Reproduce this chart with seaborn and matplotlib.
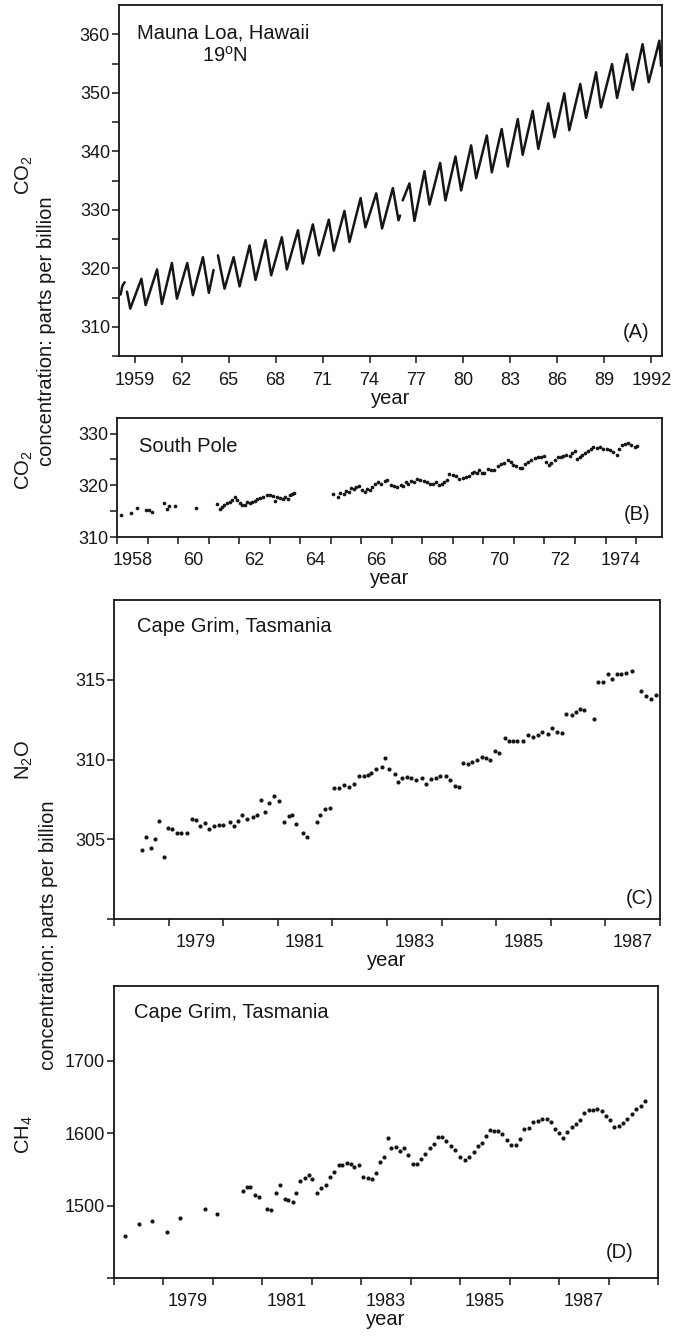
import matplotlib
matplotlib.use("Agg")
import numpy as np
import pandas as pd
import seaborn as sns
import matplotlib.pyplot as plt
from matplotlib.ticker import FixedLocator, FixedFormatter, NullFormatter

# ---------------- data ----------------
# (A) Mauna Loa CO2: turning points of the seasonal cycle, by record segment
a_year = [1958.10, 1958.22, 1958.36,
          1958.51, 1958.72, 1959.43, 1959.70, 1960.43, 1960.74, 1961.38, 1961.70,
          1962.36, 1962.72, 1963.36, 1963.74, 1964.04,
          1964.32, 1964.74, 1965.32, 1965.70, 1966.34, 1966.72, 1967.36, 1967.72,
          1968.40, 1968.72, 1969.43, 1969.74, 1970.38, 1970.77, 1971.40, 1971.72,
          1972.40, 1972.72, 1973.43, 1973.74, 1974.43, 1974.80, 1975.49, 1975.85, 1975.95,
          1976.12, 1976.55, 1976.87, 1977.51, 1977.83, 1978.51, 1978.85, 1979.49, 1979.85,
          1980.49, 1980.81, 1981.49, 1981.81, 1982.44, 1982.83, 1983.47, 1983.78,
          1984.42, 1984.78, 1985.42, 1985.81, 1986.44, 1986.76, 1987.46, 1987.83,
          1988.47, 1988.78, 1989.49, 1989.81, 1990.44, 1990.81, 1991.44, 1991.83,
          1992.51, 1992.62]
a_co2 = [315.5, 317.0, 317.6,
         316.0, 313.1, 318.2, 313.7, 319.8, 313.9, 320.9, 314.8,
         320.9, 315.4, 321.9, 315.8, 319.7,
         322.2, 316.5, 321.9, 316.9, 323.9, 318.0, 324.8, 318.8,
         325.3, 319.8, 326.5, 320.8, 327.5, 322.2, 328.3, 323.0,
         329.8, 324.5, 332.0, 327.0, 332.8, 326.8, 333.7, 328.2, 329.0,
         331.6, 334.5, 328.1, 336.6, 330.9, 338.0, 331.6, 339.1, 333.3,
         341.0, 335.4, 342.7, 336.4, 343.8, 337.4, 345.5, 339.4,
         346.9, 340.4, 348.2, 342.4, 349.9, 343.6, 351.5, 345.7,
         353.5, 347.5, 354.9, 349.1, 356.6, 350.5, 358.3, 351.8,
         358.9, 354.6]
a_seg = [0] * 3 + [1] * 13 + [2] * 25 + [3] * 35

# (B) South Pole CO2
b_year = [1958.14, 1958.45, 1958.65, 1958.95, 1959.05, 1959.16, 1959.55, 1959.64, 1959.71, 1959.90,
          1960.60, 1961.28, 1961.36, 1961.44, 1961.52, 1961.61, 1961.69, 1961.77, 1961.85, 1961.94,
          1962.02, 1962.10, 1962.18, 1962.27, 1962.35, 1962.42, 1962.51, 1962.60, 1962.68, 1962.79,
          1962.90, 1963.01, 1963.12, 1963.17, 1963.23, 1963.34, 1963.45, 1963.50, 1963.59, 1963.67,
          1963.72, 1963.81,
          1965.09, 1965.23, 1965.31, 1965.42, 1965.50, 1965.59, 1965.67, 1965.75, 1965.83, 1965.92,
          1966.03, 1966.11, 1966.19, 1966.27, 1966.35, 1966.44, 1966.55, 1966.66, 1966.77, 1966.85,
          1966.96, 1967.07, 1967.18, 1967.29, 1967.38, 1967.45, 1967.53, 1967.62, 1967.73, 1967.84,
          1967.93, 1968.04, 1968.15, 1968.25, 1968.36, 1968.44, 1968.55, 1968.63, 1968.72, 1968.80,
          1968.88, 1968.99, 1969.10, 1969.21, 1969.32, 1969.43, 1969.54, 1969.62, 1969.70, 1969.79,
          1969.87, 1969.95, 1970.03, 1970.14, 1970.25, 1970.36, 1970.47, 1970.58, 1970.69, 1970.80,
          1970.89, 1970.97, 1971.08, 1971.19, 1971.26, 1971.35, 1971.46, 1971.57, 1971.68, 1971.79,
          1971.90, 1971.99, 1972.06, 1972.14, 1972.23, 1972.34, 1972.43, 1972.54, 1972.61, 1972.72,
          1972.83, 1972.91, 1973.00, 1973.08, 1973.16, 1973.24, 1973.33, 1973.44, 1973.52, 1973.60,
          1973.71, 1973.82, 1973.93, 1974.04, 1974.15, 1974.26, 1974.37, 1974.45, 1974.53, 1974.64,
          1974.73, 1974.84, 1974.95, 1975.03]
b_co2 = [314.3, 314.7, 315.6, 315.2, 315.2, 314.9, 316.5, 315.4, 315.9, 315.9,
         315.7, 316.3, 315.4, 315.8, 316.1, 316.5, 316.7, 317.1, 317.8, 317.1,
         316.6, 316.2, 316.1, 316.7, 316.5, 316.7, 316.9, 317.3, 317.5, 317.8,
         318.1, 318.1, 317.9, 316.9, 317.8, 317.5, 317.3, 317.8, 317.3, 318.1,
         318.4, 318.5,
         318.4, 317.8, 318.5, 318.3, 318.9, 318.7, 319.5, 319.3, 319.7, 319.9,
         319.1, 318.7, 319.3, 319.0, 319.7, 320.2, 320.6, 320.2, 320.9, 321.0,
         320.1, 319.9, 319.7, 320.1, 319.9, 320.6, 320.2, 320.9, 320.6, 321.2,
         321.0, 320.9, 320.6, 320.3, 320.3, 320.6, 320.1, 320.2, 320.6, 321.0,
         322.1, 321.9, 321.7, 321.2, 321.4, 321.6, 321.7, 322.4, 322.6, 322.4,
         323.0, 322.4, 322.3, 323.1, 323.0, 323.0, 323.8, 324.1, 324.3, 324.8,
         324.5, 324.0, 323.7, 323.4, 323.3, 324.2, 324.5, 324.8, 325.2, 325.4,
         325.4, 325.6, 324.5, 324.0, 324.3, 324.8, 325.4, 325.5, 325.7, 325.9,
         325.6, 326.3, 326.6, 325.0, 325.4, 325.9, 326.3, 326.6, 327.1, 327.4,
         327.2, 327.4, 327.1, 327.0, 326.8, 326.4, 325.9, 327.1, 327.8, 327.9,
         328.1, 327.8, 327.4, 327.6]

# (C) Cape Grim N2O
c_year = [1978.51, 1978.59, 1978.67, 1978.75, 1978.83, 1978.92, 1978.99, 1979.07, 1979.15, 1979.23,
          1979.33, 1979.42, 1979.50, 1979.58, 1979.66, 1979.74, 1979.84, 1979.92, 1980.00, 1980.12,
          1980.19, 1980.28, 1980.34, 1980.43, 1980.54, 1980.61, 1980.69, 1980.77, 1980.84, 1980.93,
          1981.03, 1981.12, 1981.21, 1981.26, 1981.34, 1981.46, 1981.54, 1981.72, 1981.78, 1981.87,
          1981.95, 1982.03, 1982.13, 1982.22, 1982.30, 1982.39, 1982.48, 1982.57, 1982.66, 1982.71,
          1982.79, 1982.90, 1982.96, 1983.04, 1983.15, 1983.21, 1983.28, 1983.36, 1983.44, 1983.53,
          1983.64, 1983.72, 1983.80, 1983.90, 1983.97, 1984.08, 1984.15, 1984.24, 1984.32, 1984.39,
          1984.48, 1984.56, 1984.64, 1984.74, 1984.81, 1984.89, 1984.97, 1985.06, 1985.17, 1985.23,
          1985.31, 1985.39, 1985.49, 1985.58, 1985.67, 1985.77, 1985.84, 1985.94, 1986.03, 1986.11,
          1986.20, 1986.28, 1986.38, 1986.46, 1986.53, 1986.61, 1986.80, 1986.87, 1986.95, 1987.05,
          1987.13, 1987.21, 1987.29, 1987.38, 1987.48, 1987.65, 1987.74, 1987.84, 1987.92]
c_n2o = [304.35, 305.13, 304.46, 305.01, 306.14, 303.88, 305.73, 305.65, 305.42, 305.38,
         305.38, 306.30, 306.20, 305.85, 306.04, 305.65, 305.85, 305.89, 305.89, 306.10,
         305.85, 306.16, 306.51, 306.30, 306.41, 306.55, 307.43, 306.71, 307.29, 307.70,
         307.39, 306.10, 306.47, 306.51, 305.93, 305.42, 305.17, 306.10, 306.51, 306.92,
         306.98, 308.19, 308.19, 308.42, 308.25, 308.46, 308.97, 308.97, 309.01, 309.18,
         309.43, 309.53, 310.08, 309.38, 309.08, 308.62, 308.87, 308.91, 308.87, 308.73,
         308.83, 308.46, 308.77, 308.87, 308.97, 308.97, 308.71, 308.32, 308.25, 309.79,
         309.69, 309.86, 310.00, 310.14, 310.10, 309.94, 310.55, 310.41, 311.33, 311.13,
         311.17, 311.13, 311.17, 311.54, 311.44, 311.54, 311.75, 311.58, 311.95, 311.70,
         311.64, 312.87, 312.77, 312.98, 313.18, 313.12, 312.51, 314.87, 314.83, 315.38,
         315.03, 315.34, 315.38, 315.44, 315.54, 314.31, 314.00, 313.80, 314.07]

# (D) Cape Grim CH4
d_year = [1978.22, 1978.50, 1978.76, 1979.07, 1979.34, 1979.83, 1980.09,
          1980.60, 1980.69, 1980.75, 1980.85, 1980.94, 1981.10, 1981.18, 1981.27, 1981.36, 1981.45,
          1981.52, 1981.62, 1981.69, 1981.77, 1981.87, 1981.95, 1982.01, 1982.10, 1982.19, 1982.28,
          1982.36, 1982.45, 1982.54, 1982.62, 1982.71, 1982.80, 1982.86, 1982.95, 1983.04, 1983.13,
          1983.22, 1983.30, 1983.37, 1983.45, 1983.54, 1983.61, 1983.70, 1983.79, 1983.86, 1983.94,
          1984.04, 1984.13, 1984.20, 1984.29, 1984.38, 1984.47, 1984.55, 1984.63, 1984.72, 1984.81,
          1984.89, 1984.99, 1985.09, 1985.18, 1985.27, 1985.36, 1985.44, 1985.53, 1985.61, 1985.69,
          1985.77, 1985.85, 1985.94, 1986.03, 1986.12, 1986.21, 1986.30, 1986.39, 1986.48, 1986.57,
          1986.66, 1986.75, 1986.83, 1986.92, 1987.00, 1987.08, 1987.17, 1987.26, 1987.35, 1987.42,
          1987.51, 1987.60, 1987.69, 1987.77, 1987.86, 1987.95, 1988.03, 1988.12, 1988.21, 1988.30,
          1988.38, 1988.47, 1988.56, 1988.65, 1988.73]
d_ch4 = [1457.5, 1474.5, 1479.1, 1463.9, 1482.3, 1495.2, 1488.3,
         1520.5, 1526.0, 1525.1, 1514.5, 1511.3, 1495.2, 1494.3, 1517.2, 1528.3, 1509.0,
         1507.6, 1504.4, 1517.2, 1533.3, 1537.5, 1542.1, 1536.6, 1517.2, 1523.7, 1528.7,
         1538.9, 1545.7, 1555.9, 1555.9, 1558.6, 1557.2, 1552.6, 1555.9, 1538.9, 1537.5,
         1536.6, 1544.4, 1559.5, 1567.4, 1593.1, 1579.3, 1581.1, 1575.6, 1578.9, 1570.1,
         1557.2, 1557.2, 1564.1, 1571.0, 1578.9, 1584.8, 1594.0, 1594.9, 1588.5, 1582.5,
         1576.6, 1566.4, 1563.2, 1566.4, 1573.3, 1582.5, 1585.7, 1596.3, 1604.6, 1603.2,
         1603.2, 1598.6, 1590.8, 1583.4, 1583.4, 1591.7, 1605.5, 1606.9, 1614.7, 1616.1,
         1619.3, 1619.3, 1615.6, 1605.5, 1600.0, 1592.6, 1600.9, 1608.7, 1612.4, 1617.9,
         1627.1, 1631.7, 1631.7, 1633.1, 1630.8, 1623.9, 1617.9, 1608.7, 1609.2, 1613.3,
         1619.3, 1626.2, 1633.1, 1637.7, 1643.7]

# tick labels
a_xticks = [1959, 1962, 1965, 1968, 1971, 1974, 1977, 1980, 1983, 1986, 1989, 1992]
a_xlabels = ["1959", "62", "65", "68", "71", "74", "77", "80", "83", "86", "89", "1992"]
b_xlabels = ["1958", "60", "62", "64", "66", "68", "70", "72", "1974"]
cd_xlabels = ["1979", "1981", "1983", "1985", "1987"]

# ---------------- style ----------------
sns.set_theme(style="ticks")
plt.rcParams['font.family'] = ['Liberation Sans', 'DejaVu Sans']
plt.rcParams['mathtext.fontset'] = 'custom'
plt.rcParams['mathtext.rm'] = 'Liberation Sans'
plt.rcParams['mathtext.it'] = 'Liberation Sans:italic'
plt.rcParams['mathtext.bf'] = 'Liberation Sans:bold'

INK = "#161616"
W, H = 674, 1340
fig = plt.figure(figsize=(W / 100, H / 100), dpi=100)
fig.patch.set_facecolor("white")


def add_ax(l, r, t, b):
    return fig.add_axes([l / W, 1 - b / H, (r - l) / W, (b - t) / H])


axA = add_ax(119, 662, 5, 356)
axB = add_ax(117, 662, 418, 537)
axC = add_ax(114, 660, 600, 919)
axD = add_ax(114, 658, 986, 1278)

TICK_FS = 13


def style(ax):
    for s in ax.spines.values():
        s.set_linewidth(1.3)
        s.set_color(INK)
        s.set_visible(True)
    ax.tick_params(which="both", direction="out", length=5, width=1.1, color=INK,
                   labelsize=TICK_FS, labelcolor=INK)
    ax.tick_params(axis="x", which="both", pad=6.5)
    ax.tick_params(axis="y", which="both", pad=1.5)
    ax.set_xlabel("year", fontsize=14.5, color=INK, labelpad=0)
    ax.set_ylabel("")
    ax.set_facecolor("white")


# ---- (A)
dfA = pd.DataFrame({"year": a_year, "co2": a_co2, "seg": a_seg})
sns.lineplot(data=dfA, x="year", y="co2", units="seg", estimator=None, sort=False,
             color=INK, linewidth=1.8, ax=axA)
axA.set_xlim(1958.0, 1992.68)
axA.set_ylim(305, 365)
axA.xaxis.set_major_locator(FixedLocator(a_xticks))
axA.xaxis.set_major_formatter(FixedFormatter(a_xlabels))
axA.yaxis.set_major_locator(FixedLocator([310, 320, 330, 340, 350, 360]))
axA.yaxis.set_minor_locator(FixedLocator([305, 315, 325, 335, 345, 355]))
style(axA)

# ---- (B)
sns.scatterplot(x=b_year, y=b_co2, ax=axB, s=7, color=INK, linewidth=0, legend=False)
axB.set_xlim(1958.0, 1975.85)
axB.set_ylim(310, 333)
axB.xaxis.set_major_locator(FixedLocator(list(range(1958, 1976))))
axB.xaxis.set_major_formatter(NullFormatter())
axB.xaxis.set_minor_locator(FixedLocator([y + 0.5 for y in range(1958, 1975, 2)]))
axB.xaxis.set_minor_formatter(FixedFormatter(b_xlabels))
axB.yaxis.set_major_locator(FixedLocator([310, 320, 330]))
axB.yaxis.set_minor_locator(FixedLocator([315, 325]))
style(axB)
axB.tick_params(axis="x", which="minor", length=0, pad=11)

# ---- (C)
sns.scatterplot(x=c_year, y=c_n2o, ax=axC, s=9, color=INK, linewidth=0, legend=False)
axC.set_xlim(1978.0, 1988.0)
axC.set_ylim(300, 320)
axC.xaxis.set_major_locator(FixedLocator(list(range(1978, 1989))))
axC.xaxis.set_major_formatter(NullFormatter())
axC.xaxis.set_minor_locator(FixedLocator([1979.5, 1981.5, 1983.5, 1985.5, 1987.5]))
axC.xaxis.set_minor_formatter(FixedFormatter(cd_xlabels))
axC.yaxis.set_major_locator(FixedLocator([305, 310, 315]))
axC.yaxis.set_minor_locator(FixedLocator([300]))
style(axC)
axC.tick_params(axis="x", which="minor", length=0, pad=11)

# ---- (D)
sns.scatterplot(x=d_year, y=d_ch4, ax=axD, s=9, color=INK, linewidth=0, legend=False)
axD.set_xlim(1978.0, 1989.0)
axD.set_ylim(1400, 1803)
axD.xaxis.set_major_locator(FixedLocator(list(range(1978, 1990))))
axD.xaxis.set_major_formatter(NullFormatter())
axD.xaxis.set_minor_locator(FixedLocator([1979.5, 1981.5, 1983.5, 1985.5, 1987.5]))
axD.xaxis.set_minor_formatter(FixedFormatter(cd_xlabels))
axD.yaxis.set_major_locator(FixedLocator([1500, 1600, 1700]))
axD.yaxis.set_minor_locator(FixedLocator([1400]))
style(axD)
axD.tick_params(axis="x", which="minor", length=0, pad=11)


# ---------------- texts ----------------
def ftext(x, y, s, **kw):
    kw.setdefault("color", INK)
    kw.setdefault("fontsize", 14.5)
    fig.text(x / W, 1 - y / H, s, **kw)


ftext(137, 38.5, "Mauna Loa, Hawaii", ha="left", va="baseline")
ftext(202, 61.5, r"19$^{\mathrm{o}}$N", ha="left", va="baseline")
ftext(636, 332, "(A)", ha="center", va="center")
ftext(139, 452.5, "South Pole", ha="left", va="baseline")
ftext(637, 515, "(B)", ha="center", va="center")
ftext(137, 632, "Cape Grim, Tasmania", ha="left", va="baseline")
ftext(640, 898, "(C)", ha="center", va="center")
ftext(134, 1018, "Cape Grim, Tasmania", ha="left", va="baseline")
ftext(620, 1252, "(D)", ha="center", va="center")

ftext(24, 175, r"CO$_2$", ha="center", va="center", rotation=90)
ftext(24, 470, r"CO$_2$", ha="center", va="center", rotation=90)
ftext(24, 760, r"N$_2$O", ha="center", va="center", rotation=90)
ftext(24, 1135, r"CH$_4$", ha="center", va="center", rotation=90)
ftext(47, 331, "concentration: parts per billion", ha="center", va="center", rotation=90)
ftext(49, 935, "concentration: parts per billion", ha="center", va="center", rotation=90)

fig.savefig("out.png", dpi=100, facecolor="white")
